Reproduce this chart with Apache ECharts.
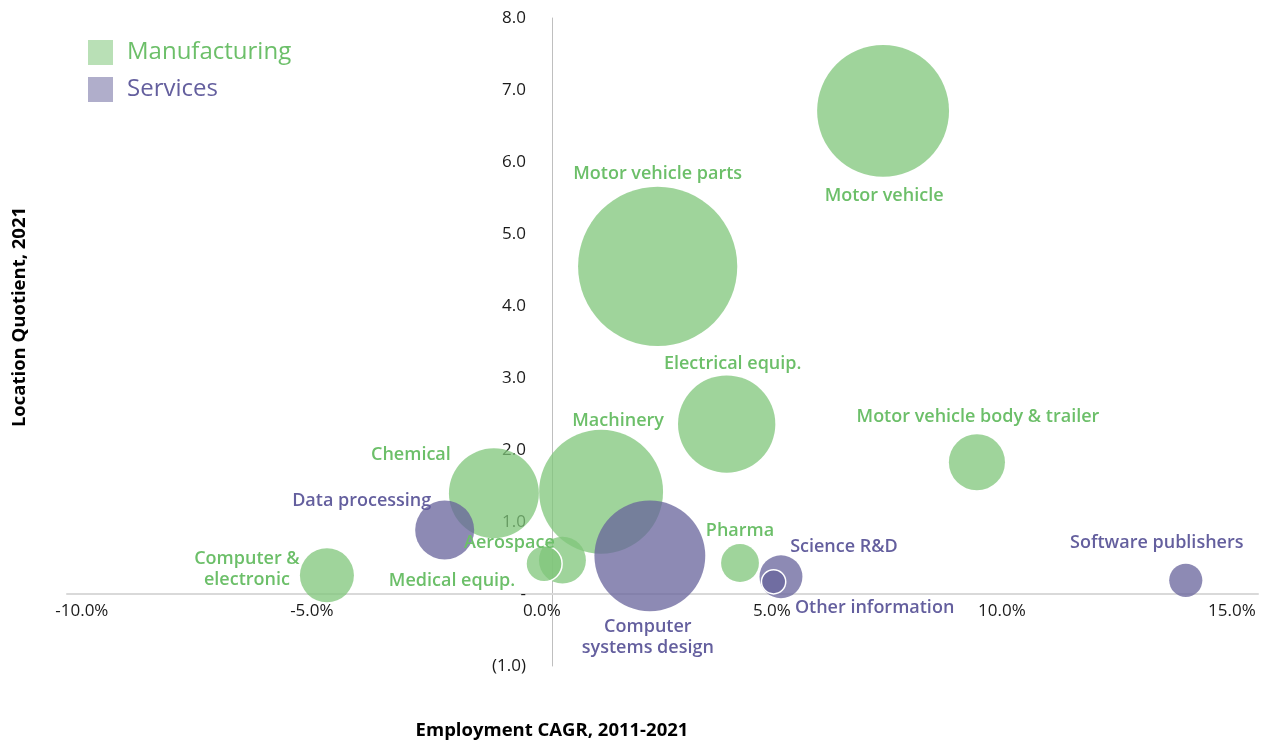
<!DOCTYPE html>
<html>
<head>
<meta charset="utf-8">
<script src="https://cdn.jsdelivr.net/npm/echarts@6/dist/echarts.min.js"></script>
<style>
  html, body { margin: 0; padding: 0; background: #ffffff; }
  #chart { width: 1269px; height: 742px; }
</style>
</head>
<body>
<div id="chart"></div>
<script>
// ---------------- data ----------------
const industries = [
  'Motor vehicle', 'Motor vehicle parts', 'Electrical equip.', 'Motor vehicle body & trailer',
  'Machinery', 'Chemical', 'Computer & electronic', 'Aerospace', 'Medical equip.', 'Pharma',
  'Computer systems design', 'Data processing', 'Science R&D', 'Other information', 'Software publishers'
];
const sectorOf = [
  'Manufacturing', 'Manufacturing', 'Manufacturing', 'Manufacturing',
  'Manufacturing', 'Manufacturing', 'Manufacturing', 'Manufacturing', 'Manufacturing', 'Manufacturing',
  'Services', 'Services', 'Services', 'Services', 'Services'
];
// Employment CAGR 2011-2021 (%)
const employmentCagr = [7.20, 2.30, 3.80, 9.24, 1.07, -1.26, -4.89, 0.23, -0.17, 4.09, 2.13, -2.33, 4.98, 4.82, 13.78];
// Location quotient 2021
const locationQuotient = [6.71, 4.55, 2.36, 1.83, 1.42, 1.40, 0.26, 0.47, 0.42, 0.43, 0.53, 0.89, 0.24, 0.17, 0.19];
// Bubble size (relative employment)
const bubbleSize = [68, 99, 37, 12.3, 60, 31.6, 11.4, 8.6, 5.1, 5.6, 48, 13.6, 7.2, 2.3, 4.3];
const sectors = ['Manufacturing', 'Services'];
const xTickValues = [-10, -5, 0, 5, 10, 15];

// ---------------- presentation ----------------
const FONT = "'Open Sans', 'Noto Sans', sans-serif";
const fillColor = { Manufacturing: 'rgba(127,198,122,0.75)', Services: 'rgba(103,99,155,0.75)' };
const legendColor = { Manufacturing: '#b9e0b6', Services: '#b0aecb' };
const textColor = { Manufacturing: '#6cbf69', Services: '#645f9e' };
const SIZE_SCALE = 16;

const labelLayout = {
  'Motor vehicle': { offset: [1, 85] },
  'Motor vehicle parts': { offset: [0, -93] },
  'Electrical equip.': { offset: [6, -60] },
  'Motor vehicle body & trailer': { offset: [1, -45] },
  'Machinery': { offset: [17, -71] },
  'Chemical': { offset: [-83, -38] },
  'Computer & electronic': { offset: [-80, -6], text: 'Computer &\nelectronic' },
  'Aerospace': { offset: [-53, -17] },
  'Medical equip.': { offset: [-92, 17] },
  'Pharma': { offset: [0, -32] },
  'Computer systems design': { offset: [-2, 82], text: 'Computer\nsystems design' },
  'Data processing': { offset: [-83, -29] },
  'Science R&D': { offset: [63, -30] },
  'Other information': { offset: [101, 26] },
  'Software publishers': { offset: [-29, -37] }
};
const outlined = { 'Medical equip.': true, 'Other information': true };

const series = sectors.map(function (sec) {
  const data = [];
  industries.forEach(function (name, i) {
    if (sectorOf[i] !== sec) return;
    const lay = labelLayout[name];
    data.push({
      name: name,
      value: [employmentCagr[i], locationQuotient[i], bubbleSize[i]],
      itemStyle: outlined[name] ? { borderColor: '#ffffff', borderWidth: 1.5 } : { borderWidth: 0 },
      label: {
        show: true,
        position: 'inside',
        offset: lay.offset,
        formatter: lay.text || name
      }
    });
  });
  return {
    name: sec,
    type: 'scatter',
    data: data,
    symbol: 'circle',
    symbolSize: function (v) { return SIZE_SCALE * Math.sqrt(v[2]); },
    itemStyle: { color: fillColor[sec], opacity: 1 },
    label: {
      color: textColor[sec],
      fontFamily: FONT,
      fontWeight: 600,
      fontSize: 18,
      lineHeight: 21,
      align: 'center'
    },
    emphasis: { disabled: true }
  };
});

const chart = echarts.init(document.getElementById('chart'), null, { renderer: 'canvas' });
chart.setOption({
  animation: false,
  backgroundColor: '#ffffff',
  grid: { left: 67, top: 18, width: 1191, height: 648, containLabel: false },
  legend: {
    left: 88, top: 40, orient: 'vertical', padding: 0,
    itemWidth: 25, itemHeight: 25, itemGap: 12,
    icon: 'rect',
    selectedMode: false,
    textStyle: { fontFamily: FONT, fontSize: 24, padding: [0, 0, 0, 9] },
    data: sectors.map(function (s) {
      return { name: s, itemStyle: { color: legendColor[s] }, textStyle: { color: textColor[s] } };
    })
  },
  xAxis: {
    type: 'value',
    position: 'bottom',
    offset: -72,
    min: -10.54, max: 15.35,
    axisLine: { onZero: false, lineStyle: { color: '#d9d9d9', width: 2 } },
    axisTick: { show: false },
    splitLine: { show: false },
    axisLabel: {
      customValues: xTickValues,
      margin: 9,
      color: '#1a1a1a',
      fontFamily: FONT,
      fontSize: 17,
      padding: [0, 20, 0, 0],
      formatter: function (v) { return v.toFixed(1) + '%'; }
    }
  },
  yAxis: {
    type: 'value',
    position: 'left',
    offset: -485,
    min: -1, max: 8, interval: 1,
    axisLine: { show: true, onZero: false, lineStyle: { color: '#bfbfbf', width: 1 } },
    axisTick: { show: false },
    splitLine: { show: false },
    axisLabel: {
      margin: 26,
      color: '#1a1a1a',
      fontFamily: FONT,
      fontSize: 17,
      formatter: function (v) {
        if (Math.abs(v) < 1e-9) return '-';
        if (v < 0) return '(' + Math.abs(v).toFixed(1) + ')';
        return v.toFixed(1);
      }
    }
  },
  graphic: [
    {
      type: 'text', x: 20, y: 317, rotation: Math.PI / 2,
      style: { text: 'Location Quotient, 2021', fontFamily: FONT, fontWeight: 'bold', fontSize: 18.5,
        fill: '#000000', textAlign: 'center', textVerticalAlign: 'middle' }
    },
    {
      type: 'text', x: 552, y: 731,
      style: { text: 'Employment CAGR, 2011-2021', fontFamily: FONT, fontWeight: 'bold', fontSize: 18.5,
        fill: '#000000', textAlign: 'center', textVerticalAlign: 'middle' }
    }
  ],
  series: series
});
</script>
</body>
</html>
